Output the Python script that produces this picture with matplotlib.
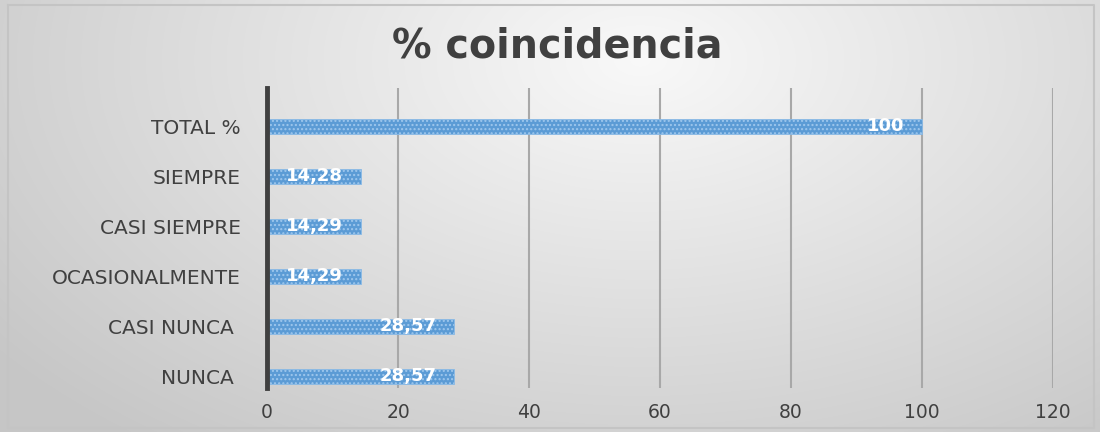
import numpy as np
import matplotlib
matplotlib.use("Agg")
import matplotlib.pyplot as plt
from matplotlib.transforms import offset_copy

categories = ["NUNCA ", "CASI NUNCA ", "OCASIONALMENTE", "CASI SIEMPRE", "SIEMPRE", "TOTAL %"]
values = [28.57, 28.57, 14.29, 14.29, 14.28, 100]
value_labels = ["28,57", "28,57", "14,29", "14,29", "14,28", "100"]
xticks = [0, 20, 40, 60, 80, 100, 120]
title = "% coincidencia"

plt.rcParams['font.family'] = ['DejaVu Sans']

fig = plt.figure(figsize=(11, 4.32), dpi=100)

# background gradient
bg = fig.add_axes([0, 0, 1, 1])
bg.set_axis_off()
H, W = 432, 1100
yy, xx = np.mgrid[0:H, 0:W]
d = np.sqrt(((xx - 640) / 700.0) ** 2 + ((yy - 60) / 420.0) ** 2)
g = np.clip(0.975 - 0.17 * d, 0.78, 0.98)
img = np.dstack([g, g, g])
bg.imshow(img, extent=[0, W, H, 0], aspect='auto')
bg.set_xlim(0, W); bg.set_ylim(H, 0)
bg.plot([8, 1094, 1094, 8, 8], [5, 5, 428, 428, 5], color="#c4c4c4", lw=1.5)

ax = fig.add_axes([267/1100, 1 - 388/432, (1053 - 267)/1100, 300/432])
ax.patch.set_alpha(0)
y = np.arange(len(categories))
bars = ax.barh(y, values, height=0.3, color="#5b9bd5", edgecolor="#8cbbe6",
               linewidth=0.6, hatch="....", zorder=3)
for b in bars:
    b._hatch_color = (0.62, 0.78, 0.93, 1.0)
ax.set_xlim(0, 120)
ax.set_ylim(-0.24, 5.76)
ax.set_xticks(xticks)
ax.set_yticks(y)
ax.set_yticklabels(categories)
for s in ["top", "right", "bottom"]:
    ax.spines[s].set_visible(False)
ax.spines["left"].set_color("#404040")
ax.spines["left"].set_linewidth(3.5)
ax.spines["left"].set_zorder(5)
ax.tick_params(axis="x", length=0, labelsize=13.5, colors="#404040", pad=11)
ax.tick_params(axis="y", length=0, labelsize=14.5, colors="#404040", pad=19)
for xv in xticks[1:]:
    ax.axvline(xv, color="#a8a8a8", lw=1.5, zorder=1)

trans = offset_copy(ax.transData, fig=fig, x=-18, y=0, units="dots")
for yi, v, lab in zip(y, values, value_labels):
    ax.text(v, yi, lab, transform=trans, ha="right", va="center",
            color="white", fontsize=13, fontweight="bold", zorder=6)

fig.text(557/1100, 1 - 46/432, title, ha="center", va="center",
         fontsize=28.5, fontweight="bold", color="#404040")

fig.savefig("out.png", dpi=100)
